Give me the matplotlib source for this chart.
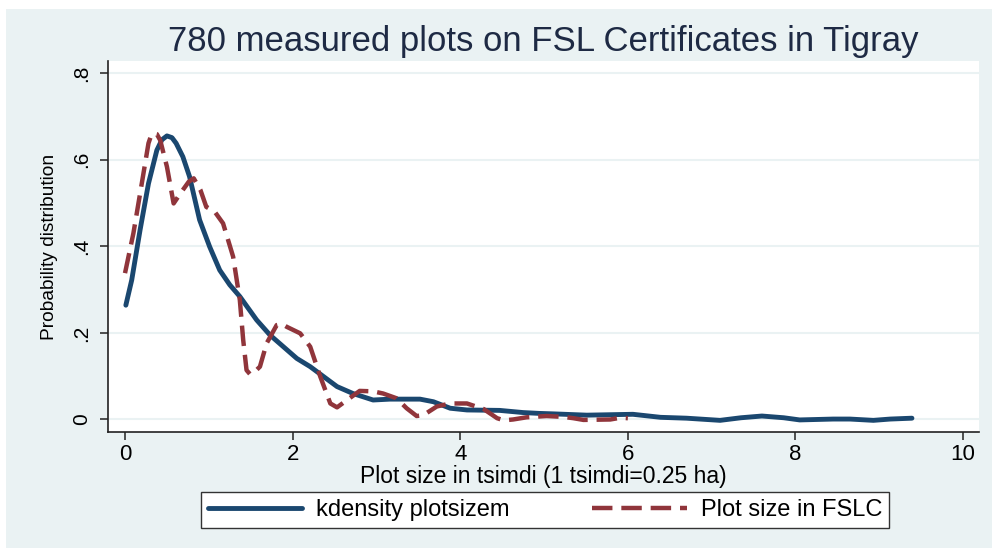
import matplotlib.pyplot as plt
from matplotlib.patches import Rectangle

# kdensity of measured plot size (tsimdi)
kd_x = [0.01, 0.08, 0.18, 0.28, 0.38, 0.44, 0.50, 0.56, 0.61, 0.69, 0.77, 0.89,
        1.01, 1.13, 1.25, 1.37, 1.57, 1.73, 1.89, 2.05, 2.21, 2.37, 2.53, 2.72,
        2.96, 3.16, 3.52, 3.68, 3.88, 4.08, 4.47, 4.75, 4.95, 5.11, 5.51, 6.06,
        6.39, 6.70, 7.10, 7.35, 7.60, 7.86, 8.05, 8.45, 8.65, 8.93, 9.13, 9.39]
kd_y = [0.264, 0.322, 0.438, 0.545, 0.622, 0.646, 0.655, 0.651, 0.638, 0.607,
        0.561, 0.461, 0.399, 0.345, 0.311, 0.284, 0.230, 0.195, 0.168, 0.141,
        0.122, 0.099, 0.076, 0.060, 0.045, 0.047, 0.047, 0.041, 0.026, 0.022,
        0.021, 0.016, 0.014, 0.013, 0.010, 0.012, 0.005, 0.003, -0.002, 0.004,
        0.008, 0.004, -0.001, 0.001, 0.001, -0.002, 0.001, 0.003]

# density of plot size recorded in FSL certificates
fsl_x = [0.00, 0.10, 0.20, 0.28, 0.31, 0.34, 0.38, 0.42, 0.50, 0.58, 0.66, 0.76,
         0.82, 0.90, 0.97, 1.07, 1.17, 1.29, 1.37, 1.41, 1.45, 1.49, 1.53, 1.61,
         1.69, 1.81, 1.87, 1.93, 2.09, 2.21, 2.33, 2.45, 2.53, 2.65, 2.80, 2.96,
         3.08, 3.24, 3.36, 3.48, 3.56, 3.72, 3.88, 4.08, 4.28, 4.44, 4.52, 4.63,
         4.79, 4.95, 5.03, 5.23, 5.35, 5.47, 5.79, 5.91, 6.00]
fsl_y = [0.338, 0.430, 0.545, 0.638, 0.655, 0.661, 0.659, 0.645, 0.584, 0.499,
         0.522, 0.549, 0.557, 0.530, 0.491, 0.480, 0.453, 0.376, 0.276, 0.184,
         0.114, 0.105, 0.107, 0.122, 0.176, 0.218, 0.221, 0.214, 0.199, 0.168,
         0.099, 0.037, 0.028, 0.045, 0.066, 0.065, 0.060, 0.049, 0.026, 0.008,
         0.010, 0.030, 0.037, 0.037, 0.024, 0.003, -0.002, 0.000, 0.005, 0.007,
         0.008, 0.006, 0.003, -0.001, 0.000, 0.004, 0.003]

xticks = [0, 2, 4, 6, 8, 10]
yticks = [0, 0.2, 0.4, 0.6, 0.8]
ytick_labels = ["0", ".2", ".4", ".6", ".8"]

BG = "#EAF2F3"
NAVY = "#1A476F"
MAROON = "#90353B"

plt.rcParams["font.family"] = ["Liberation Sans", "DejaVu Sans"]

W, H = 992, 548
fig = plt.figure(figsize=(W / 100, H / 100), dpi=100)
fig.patch.set_facecolor("white")
fig.patches.append(Rectangle((6 / W, 0), 1, 1 - 9 / H, transform=fig.transFigure,
                             facecolor=BG, edgecolor="none", zorder=-5))

# plot region in pixels: x 108..979, y 61..432
ax = fig.add_axes([108 / W, 1 - 432 / H, (979 - 108) / W, (432 - 61) / H])
ax.set_facecolor("white")
ax.set_xlim(-0.203, 10.19)
ax.set_ylim(-0.0289, 0.828)

ax.grid(axis="y", color=BG, lw=1.5)
ax.set_axisbelow(True)

ax.plot(kd_x, kd_y, color=NAVY, lw=3.5, solid_capstyle="round",
        solid_joinstyle="round", label="kdensity plotsizem")
ax.plot(fsl_x, fsl_y, color=MAROON, lw=3.2, dashes=(4.6, 2.0),
        dash_joinstyle="round", label="Plot size in FSLC")

for s in ["top", "right"]:
    ax.spines[s].set_visible(False)
for s in ["left", "bottom"]:
    ax.spines[s].set_color("#222222")
    ax.spines[s].set_linewidth(1.2)

ax.set_xticks(xticks)
ax.set_xticklabels([str(t) for t in xticks])
ax.set_yticks(yticks)
ax.set_yticklabels(ytick_labels, rotation=90, va="center")
ax.tick_params(axis="x", length=6, width=1.1, color="#222222", labelsize=16, pad=3)
ax.tick_params(axis="y", length=6, width=1.1, color="#222222", labelsize=15, pad=6)

ax.set_xlabel("Plot size in tsimdi (1 tsimdi=0.25 ha)", fontsize=16.5, labelpad=0)
ax.set_ylabel("Probability distribution", fontsize=13.8, labelpad=10)

fig.text(543 / W, 1 - 42 / H, "780 measured plots on FSL Certificates in Tigray",
         ha="center", va="center", fontsize=25, color="#1E2A44")

leg = fig.legend(loc="center", bbox_to_anchor=(545 / W, 1 - 510 / H), ncol=2,
                 fontsize=17, frameon=True, fancybox=False, edgecolor="#333333",
                 framealpha=1, handlelength=4.0, columnspacing=3.5, borderpad=0.3,
                 handletextpad=0.6)
leg.get_frame().set_linewidth(1.0)
leg.get_frame().set_facecolor("white")

fig.savefig("out.png", dpi=100, facecolor=fig.get_facecolor())
